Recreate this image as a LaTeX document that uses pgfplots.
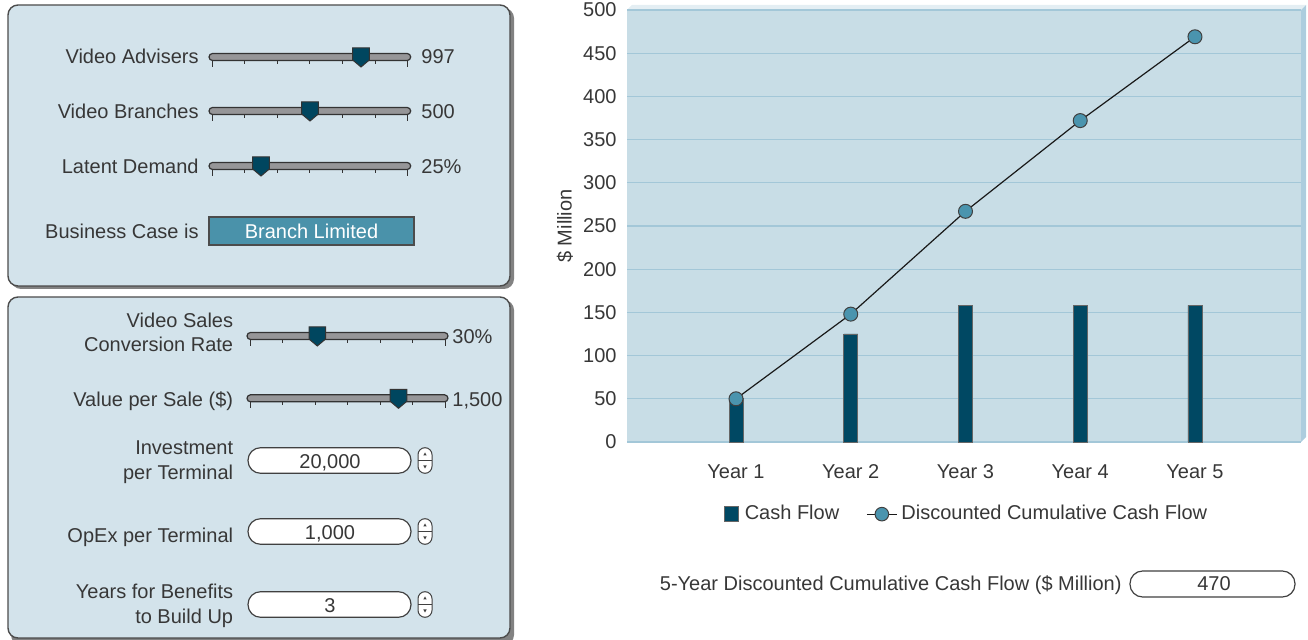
\documentclass[border=0pt]{standalone}
\usepackage{fontspec}
\setmainfont{Liberation Sans}
\usepackage{pgfplots}
\pgfplotsset{compat=1.18}
\definecolor{panelbg}{RGB}{211,227,235}
\definecolor{plotbg}{RGB}{200,221,230}
\definecolor{gridc}{RGB}{163,199,216}
\definecolor{barc}{RGB}{0,72,99}
\definecolor{markc}{RGB}{74,148,174}
\definecolor{thumbc}{RGB}{0,70,95}
\definecolor{casec}{RGB}{74,146,170}
\definecolor{trackc}{RGB}{150,150,152}
\definecolor{txtc}{RGB}{55,55,55}
\definecolor{topc}{RGB}{228,238,243}
\definecolor{sidec}{RGB}{172,205,222}
\definecolor{shadc}{RGB}{130,130,130}
\newcommand{\slider}[4]{%
  \draw[fill=trackc, draw=black!80, line width=0.6pt, rounded corners=1.75pt] (#1,#3-3.5) rectangle (#2,#3+3.5);
  \foreach \k in {0,...,6}{%
    \pgfmathsetmacro{\tx}{#1+3+(#2-#1-6)*\k/6}%
    \pgfmathsetmacro{\tl}{(\k==0||\k==6)?10:7}%
    \draw[black!80, line width=0.5pt] (\tx,#3+3.5) -- (\tx,#3+\tl);
  }
  \draw[fill=thumbc, draw=black!80, line width=0.5pt] (#4-8.3,#3-9) -- (#4+8.3,#3-9) -- (#4+8.3,#3+3) -- (#4,#3+10) -- (#4-8.3,#3+3) -- cycle;
}
\newcommand{\tbox}[3]{% y1 y2 text
  \draw[fill=white, draw=black!75, line width=0.6pt, rounded corners=6.3pt] (248,#1) rectangle (411,#2);
  \node[anchor=base] at (330,#1+20.5) {#3};
  \draw[fill=white, draw=black!75, line width=0.5pt, rounded corners=3.5pt] (418,#1) rectangle (432,#2);
  \draw[black!75, line width=0.4pt] (418,{(#1+#2)/2}) -- (432,{(#1+#2)/2});
  \fill[black!75] (423.3,{(#1+#2)/2-5}) -- (426.7,{(#1+#2)/2-5}) -- (425,{(#1+#2)/2-8}) -- cycle;
  \fill[black!75] (423.3,{(#1+#2)/2+5}) -- (426.7,{(#1+#2)/2+5}) -- (425,{(#1+#2)/2+8}) -- cycle;
}
\begin{document}
\begin{tikzpicture}[font=\fontsize{10}{12}\selectfont, text=txtc]
\begin{scope}[x=0.5pt,y=-0.5pt, every node/.style={inner sep=0pt}]
% panel 1
\fill[shadc, rounded corners=5pt] (11,8) rectangle (514,289);
\draw[fill=panelbg, draw=black!70, line width=0.7pt, rounded corners=5pt] (8,5) rectangle (510,286);
\node[anchor=base east] at (199,64) {Video Advisers};
\node[anchor=base east] at (199,118.5) {Video Branches};
\node[anchor=base east] at (199,173.5) {Latent Demand};
\node[anchor=base east] at (199,239) {Business Case is};
\slider{209}{410.7}{57}{361}
\slider{209}{410.7}{111}{310}
\slider{209}{410.7}{166}{261}
\node[anchor=base west] at (421,64) {997};
\node[anchor=base west] at (421,118.5) {500};
\node[anchor=base west] at (421,173.5) {25\%};
\draw[fill=casec, draw=black!70, line width=0.6pt] (209,217) rectangle (414,245);
\node[anchor=base, text=white] at (311.5,239) {Branch Limited};
% panel 2
\fill[shadc, rounded corners=5pt] (11,300) rectangle (514,645);
\draw[fill=panelbg, draw=black!70, line width=0.7pt, rounded corners=5pt] (8,297) rectangle (510,638);
\node[anchor=base east] at (233.5,327.3) {Video Sales};
\node[anchor=base east] at (233.5,351.3) {Conversion Rate};
\node[anchor=base east] at (233.5,406.5) {Value per Sale (\$)};
\node[anchor=base east] at (233.5,455) {Investment};
\node[anchor=base east] at (233.5,480) {per Terminal};
\node[anchor=base east] at (233.5,542.3) {OpEx per Terminal};
\node[anchor=base east] at (233.5,598.3) {Years for Benefits};
\node[anchor=base east] at (233.5,623.3) {to Build Up};
\slider{247}{448}{336}{317.3}
\slider{247}{448}{398.3}{398.5}
\node[anchor=base west] at (452,344) {30\%};
\node[anchor=base west] at (452,406.5) {1,500};
\tbox{447.7}{473.3}{20,000}
\tbox{518.7}{544.3}{1,000}
\tbox{591.7}{617.3}{3}
% 3D frame of plot
\fill[topc] (627,10) -- (632,5) -- (1306,5) -- (1301,10) -- cycle;
\fill[sidec] (1301,10) -- (1306,5) -- (1306,437) -- (1301,442) -- cycle;
% bottom summary
\node[anchor=base east] at (1122,591) {5-Year Discounted Cumulative Cash Flow (\$ Million)};
\draw[fill=white, draw=black!75, line width=0.6pt, rounded corners=6.3pt] (1130,571) rectangle (1295,597);
\node[anchor=base] at (1214,591) {470};
\end{scope}
\begin{axis}[
  at={(313.5pt,-221pt)}, anchor=south west,
  width=337pt, height=216pt, scale only axis,
  xmin=0.05, xmax=5.924, ymin=0, ymax=500,
  ytick={0,50,...,500},
  xtick={1,2,3,4,5},
  xticklabels={Year 1,Year 2,Year 3,Year 4,Year 5},
  axis background/.style={fill=plotbg},
  ymajorgrids, grid style={gridc, line width=0.6pt},
  axis line style={draw=none},
  major tick length=0pt,
  tick label style={font=\fontsize{10}{12}\selectfont, text=txtc},
  /pgf/number format/assume math mode=true,
  yticklabel style={xshift=-1.7pt},
  xticklabel style={yshift=-7.5pt, text height=7.3pt, text depth=0pt},
  ylabel={\$ Million},
  ylabel style={at={(axis description cs:-0.092,0.5)}, anchor=center, font=\fontsize{10}{12}\selectfont, text=txtc},
  clip=false,
  legend columns=2,
  legend style={at={(axis description cs:0.505,-0.167)}, anchor=center, draw=none, fill=none,
    font=\fontsize{10}{12}\selectfont, text=txtc,
    /tikz/every even column/.append style={column sep=11.5pt}},
]
\addplot[ybar, bar width=7pt, fill=barc, draw=black!60, line width=0.4pt,
  legend image code/.code={\draw[fill=barc, draw=black!60, line width=0.4pt] (0pt,-3.7pt) rectangle (7.4pt,3.7pt); \path[draw=none, fill=none] (0pt,0pt) -- (8.4pt,0pt);}]
  coordinates {(1,50) (2,125) (3,158) (4,158) (5,158)};
\addlegendentry{Cash Flow}
\addplot[black!90, line width=0.6pt, mark=*, mark size=3.5pt, mark options={fill=markc, draw=black!75, line width=0.5pt},
  legend image code/.code={\draw[black!90, line width=0.6pt] (0pt,0pt) -- (15pt,0pt); \draw[fill=markc, draw=black!75, line width=0.5pt] (7.5pt,0pt) circle (3.4pt);}]
  coordinates {(1,50) (2,148) (3,267) (4,372) (5,469)};
\addlegendentry{Discounted Cumulative Cash Flow}
\end{axis}
\pgfresetboundingbox
\path (0,0) rectangle (654pt,-320pt);
\end{tikzpicture}
\end{document}
